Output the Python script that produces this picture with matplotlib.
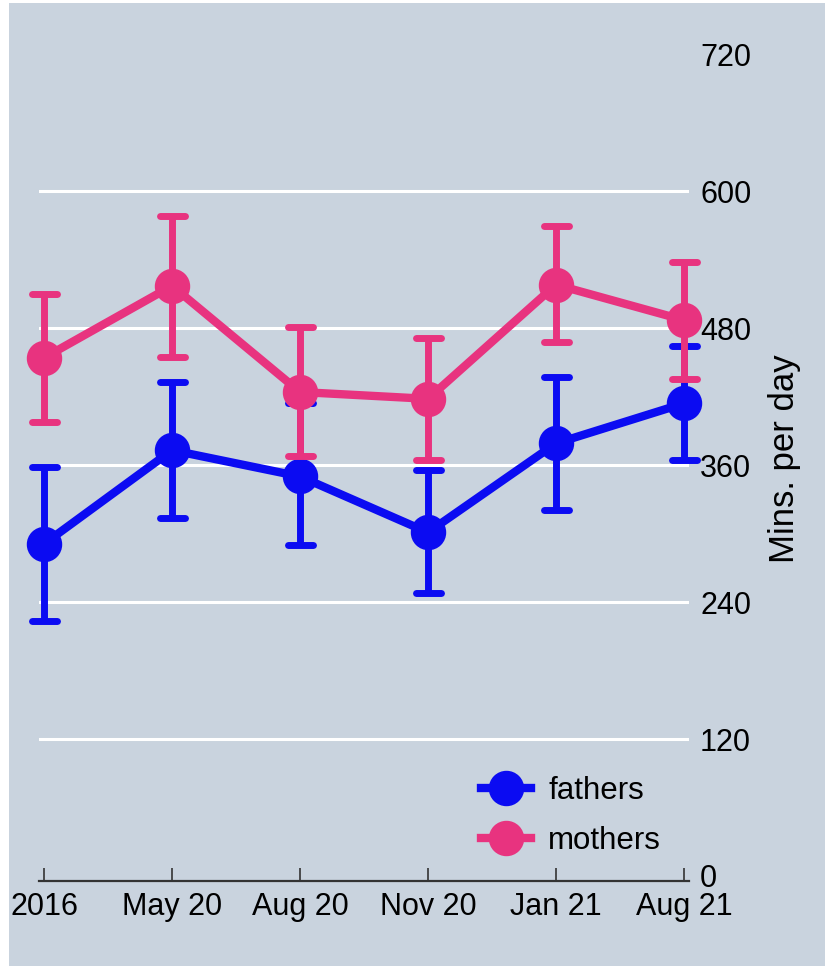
import matplotlib
matplotlib.use("Agg")
import matplotlib.pyplot as plt
import matplotlib.patches as mpatches
from matplotlib.lines import Line2D
from matplotlib.markers import MarkerStyle

# data
waves = ["2016", "May 20", "Aug 20", "Nov 20", "Jan 21", "Aug 21"]
fathers = [291, 373, 350, 301, 379, 414]
fathers_lo = [223, 314, 290, 248, 321, 364]
fathers_hi = [358, 433, 414, 356, 437, 464]
mothers = [454, 517, 424, 418, 518, 487]
mothers_lo = [398, 455, 368, 364, 468, 435]
mothers_hi = [510, 578, 481, 471, 569, 538]
y_ticks = [0, 120, 240, 360, 480, 600, 720]

BG = "#c9d3de"
BLUE = "#0b0bf2"
PINK = "#e8337f"

plt.rcParams['font.family'] = ['Liberation Sans', 'DejaVu Sans']

fig = plt.figure(figsize=(8.25, 9.66), dpi=100)
fig.patch.set_facecolor("white")
fig.patches.append(mpatches.Rectangle((9 / 825, 0), 1, 1 - 3 / 966,
                                      transform=fig.transFigure,
                                      facecolor=BG, edgecolor="none",
                                      zorder=-10))

ax = fig.add_axes([39 / 825, 85 / 966, 650 / 825, 844 / 966])
ax.patch.set_alpha(0)

x = list(range(len(waves)))
rnd = MarkerStyle("_", capstyle="round")


def draw(vals, lo, hi, color, z):
    yerr = [[v - l for v, l in zip(vals, lo)], [h - v for v, h in zip(vals, hi)]]
    _, caps, bars = ax.errorbar(x, vals, yerr=yerr, fmt="none", ecolor=color,
                                elinewidth=5, capsize=9, capthick=5,
                                zorder=z)
    for c in caps:
        c.set_marker(rnd)
        c.set_clip_on(False)
    for b in bars:
        b.set_clip_on(False)
    ax.plot(x, vals, color=color, lw=6, marker="o", ms=24.5,
            solid_joinstyle="round", zorder=z + 0.5, clip_on=False)


draw(fathers, fathers_lo, fathers_hi, BLUE, 3)
draw(mothers, mothers_lo, mothers_hi, PINK, 4)

ax.set_xlim(-0.04, 5.04)
ax.set_ylim(-4.4, 735)
ax.set_xticks(x)
ax.set_xticklabels(waves)
ax.set_yticks(y_ticks)
ax.yaxis.tick_right()
ax.yaxis.set_label_position("right")
ax.tick_params(axis="y", length=0, pad=8, labelsize=22)
ax.tick_params(axis="x", direction="in", length=9.5, width=1.2,
               color="#333333", pad=8, labelsize=22)
ax.set_ylabel("Mins. per day", fontsize=25, labelpad=12)

ax.grid(axis="y", color="white", lw=2.2)
ax.set_axisbelow(True)
gl = ax.yaxis.get_gridlines()
gl[0].set_visible(False)
gl[-1].set_visible(False)

for s in ["left", "right", "top"]:
    ax.spines[s].set_visible(False)
ax.spines["bottom"].set_color("#333333")
ax.spines["bottom"].set_linewidth(1.6)

handles = [Line2D([], [], color=BLUE, lw=6, marker="o", ms=24.5),
           Line2D([], [], color=PINK, lw=6, marker="o", ms=24.5)]
fig.legend(handles, ["fathers", "mothers"], loc="center left",
           bbox_to_anchor=(481 / 825, 1 - 816 / 966), frameon=False,
           fontsize=22.5, borderpad=0, borderaxespad=0, handlelength=1.6,
           handletextpad=0.55, labelspacing=0.62)

fig.savefig("out.png", dpi=100, facecolor=fig.get_facecolor())
